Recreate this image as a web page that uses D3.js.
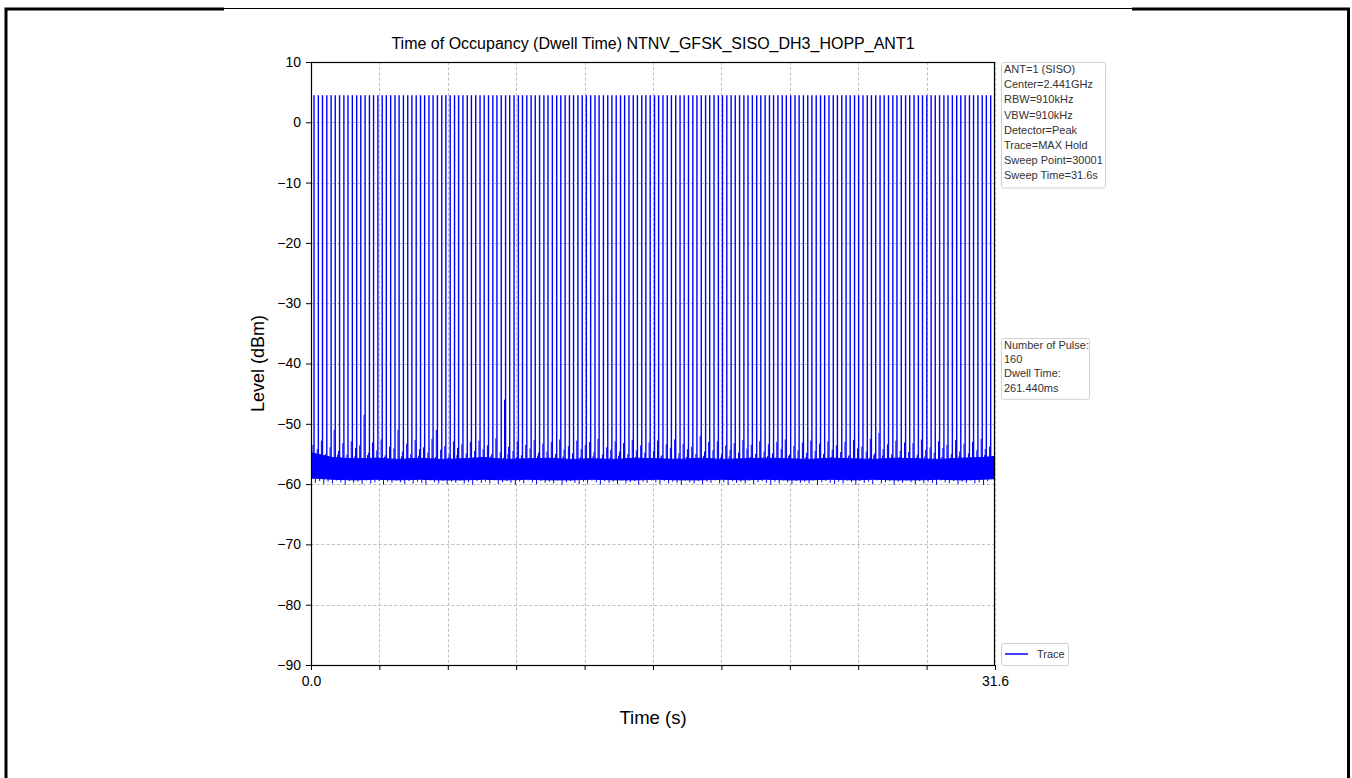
<!DOCTYPE html>
<html>
<head>
<meta charset="utf-8">
<script src="https://cdn.jsdelivr.net/npm/d3@7"></script>
<style>
  body { margin: 0; background: #fff; }
  svg { display: block; font-family: "Liberation Sans", Arial, sans-serif; }
</style>
</head>
<body>
<svg id="chart" width="1352" height="778"></svg>
<script>
// ---------------- data ----------------
const titleText = "Time of Occupancy (Dwell Time) NTNV_GFSK_SISO_DH3_HOPP_ANT1";
const xDomain = [0, 31.6];
const yDomain = [-90, 10];
const xTickValues = [0, 3.16, 6.32, 9.48, 12.64, 15.8, 18.96, 22.12, 25.28, 28.44, 31.6];
const xTickLabels = ["0.0", "", "", "", "", "", "", "", "", "", "31.6"];
const yTickValues = [10, 0, -10, -20, -30, -40, -50, -60, -70, -80, -90];

const infoLines = ["ANT=1 (SISO)", "Center=2.441GHz", "RBW=910kHz", "VBW=910kHz",
  "Detector=Peak", "Trace=MAX Hold", "Sweep Point=30001", "Sweep Time=31.6s"];
const resultLines = ["Number of Pulse:", "160", "Dwell Time:", "261.440ms"];
const seriesName = "Trace";

// pulse start times (s), 160 pulses
const pulseTimes = [
  0.14, 0.34, 0.53, 0.73, 0.93, 1.12, 1.32, 1.52, 1.71, 1.91,
  2.11, 2.30, 2.50, 2.70, 2.89, 3.09, 3.29, 3.48, 3.68, 3.88,
  4.07, 4.27, 4.47, 4.66, 4.86, 5.06, 5.25, 5.45, 5.64, 5.84,
  6.04, 6.23, 6.43, 6.63, 6.82, 7.02, 7.22, 7.41, 7.61, 7.81,
  8.00, 8.20, 8.40, 8.59, 8.79, 8.99, 9.18, 9.38, 9.58, 9.77,
  9.97, 10.17, 10.36, 10.56, 10.76, 10.95, 11.15, 11.35, 11.54, 11.74,
  11.94, 12.13, 12.33, 12.53, 12.72, 12.92, 13.12, 13.31, 13.51, 13.71,
  13.90, 14.10, 14.30, 14.49, 14.69, 14.89, 15.08, 15.28, 15.47, 15.67,
  15.87, 16.06, 16.26, 16.46, 16.65, 16.85, 17.05, 17.24, 17.44, 17.64,
  17.83, 18.03, 18.23, 18.42, 18.62, 18.82, 19.01, 19.21, 19.41, 19.60,
  19.80, 20.00, 20.19, 20.39, 20.59, 20.78, 20.98, 21.18, 21.37, 21.57,
  21.77, 21.96, 22.16, 22.36, 22.55, 22.75, 22.95, 23.14, 23.34, 23.54,
  23.73, 23.93, 24.13, 24.32, 24.52, 24.72, 24.91, 25.11, 25.30, 25.50,
  25.70, 25.89, 26.09, 26.29, 26.48, 26.68, 26.88, 27.07, 27.27, 27.47,
  27.66, 27.86, 28.06, 28.25, 28.45, 28.65, 28.84, 29.04, 29.24, 29.43,
  29.63, 29.83, 30.02, 30.22, 30.42, 30.61, 30.81, 31.01, 31.20, 31.40
];
const pulsePeak = 4.5;      // dBm, level of each pulse
const pulseBase = -59.0;    // dBm, level the pulses rise from

// spike level next to each pulse (dBm)
const shoulderLevels = [
  -53.5, -54.2, -52.8, -55.0, -53.9, -51.0, -54.5, -53.2, -55.1, -52.9, -54.0, -53.6, -48.5, -54.8, -53.1, -54.4, -52.6, -55.2, -53.8, -54.1,
  -51.0, -54.6, -53.3, -55.0, -52.7, -54.2, -53.9, -54.8, -52.5, -51.0, -54.3, -53.7, -55.1, -52.9, -54.0, -53.4, -54.9, -53.0, -54.5, -52.8,
  -54.2, -53.6, -55.0, -52.4, -54.7, -46.0, -53.8, -54.5, -52.9, -55.2, -53.5, -54.1, -52.7, -54.8, -53.3, -54.6, -53.0, -55.0, -52.6, -54.3,
  -53.7, -54.9, -52.8, -54.2, -53.5, -53.0, -54.7, -52.5, -55.1, -53.9, -54.3, -52.9, -54.6, -53.2, -55.0, -52.7, -54.4, -53.6, -54.8, -53.1,
  -54.5, -52.8, -55.2, -53.4, -54.0, -52.6, -54.9, -53.3, -54.2, -53.8, -55.0, -52.0, -54.6, -53.0, -54.4, -52.9, -55.1, -53.6, -54.3, -53.2,
  -54.8, -52.7, -54.1, -53.5, -55.0, -52.9, -54.6, -53.4, -54.9, -53.0, -54.2, -52.6, -55.1, -53.7, -54.4, -53.1, -54.8, -52.8, -54.5, -53.3,
  -55.0, -52.9, -54.3, -53.6, -54.7, -53.0, -55.2, -52.7, -54.1, -53.8, -54.6, -52.5, -54.9, -51.5, -54.2, -53.4, -55.0, -52.8, -54.5, -53.1,
  -54.7, -53.2, -55.1, -52.6, -54.3, -53.9, -54.8, -52.9, -54.0, -53.5, -55.0, -52.7, -54.6, -53.3, -54.9, -53.0, -54.4, -52.5, -54.2, -53.8
];
// noise spike level midway between pulses (dBm)
const midLevels = [
  -55.6, -56.2, -55.3, -56.5, -55.9, -55.1, -56.4, -55.7, -56.0, -55.4, -56.3, -55.8, -55.2, -56.1, -55.6, -56.4, -55.5, -56.0, -55.9, -56.2,
  -55.4, -56.1, -55.8, -56.5, -55.3, -56.0, -55.7, -56.3, -55.5, -55.9, -56.2, -55.6, -56.4, -55.2, -56.0, -55.8, -56.3, -55.5, -56.1, -55.7,
  -56.0, -55.4, -56.3, -55.8, -55.6, -55.0, -56.2, -55.5, -56.4, -55.9, -55.7, -56.1, -55.3, -56.0, -55.8, -56.4, -55.6, -56.2, -55.4, -56.0,
  -55.9, -56.3, -55.5, -56.1, -55.7, -55.4, -56.2, -55.8, -56.5, -55.6, -56.0, -55.3, -56.3, -55.9, -56.1, -55.5, -56.4, -55.7, -56.0, -55.8,
  -56.2, -55.4, -56.1, -55.9, -56.3, -55.6, -56.0, -55.5, -56.4, -55.7, -56.1, -55.3, -56.2, -55.8, -56.0, -55.6, -56.5, -55.4, -56.1, -55.9,
  -55.7, -56.3, -55.5, -56.0, -55.8, -56.2, -55.4, -56.4, -55.6, -56.1, -55.9, -55.3, -56.2, -55.7, -56.0, -55.5, -56.3, -55.8, -56.1, -55.6,
  -56.4, -55.5, -56.0, -55.8, -56.2, -55.4, -56.3, -55.7, -56.1, -55.9, -55.6, -55.2, -56.0, -55.3, -56.4, -55.7, -56.2, -55.5, -56.0, -55.8,
  -56.1, -55.6, -56.3, -55.4, -56.0, -55.9, -56.2, -55.5, -56.4, -55.7, -56.0, -55.3, -56.1, -55.8, -56.3, -55.6, -55.9, -55.2, -55.8, -55.5
];
// lowest noise dip level between pulses (dBm)
const dipLevels = [
  -59.8, -59.5, -60.0, -59.6, -59.9, -59.4, -59.7, -60.1, -59.5, -59.8, -59.6, -60.0, -59.4, -59.9, -59.7, -59.5, -60.1, -59.6, -59.8, -59.4,
  -59.7, -60.0, -59.5, -59.9, -59.6, -59.8, -60.1, -59.4, -59.7, -59.9, -59.5, -60.0, -59.6, -59.8, -59.4, -59.9, -59.7, -60.1, -59.5, -59.8,
  -59.6, -59.9, -59.4, -60.0, -59.7, -59.5, -59.8, -60.1, -59.6, -59.9, -59.4, -59.7, -60.0, -59.5, -59.8, -59.6, -59.9, -59.4, -60.1, -59.7,
  -59.5, -59.8, -60.0, -59.6, -59.9, -59.4, -59.7, -60.1, -59.5, -59.8, -59.6, -60.0, -59.4, -59.9, -59.7, -59.5, -60.1, -59.6, -59.8, -59.4,
  -59.7, -60.0, -59.5, -59.9, -59.6, -59.8, -60.1, -59.4, -59.7, -59.9, -59.5, -60.0, -59.6, -59.8, -59.4, -59.9, -59.7, -60.1, -59.5, -59.8,
  -59.6, -59.9, -59.4, -60.0, -59.7, -59.5, -59.8, -60.1, -59.6, -59.9, -59.4, -59.7, -60.0, -59.5, -59.8, -59.6, -59.9, -59.4, -60.1, -59.7,
  -59.5, -59.8, -60.0, -59.6, -59.9, -59.4, -59.7, -60.1, -59.5, -59.8, -59.6, -60.0, -59.4, -59.9, -59.7, -59.5, -60.1, -59.6, -59.8, -59.4,
  -59.7, -60.0, -59.5, -59.9, -59.6, -59.8, -60.1, -59.4, -59.7, -59.9, -59.5, -60.0, -59.6, -59.8, -59.4, -59.9, -59.7, -60.1, -59.5, -59.2
];
// noise floor band envelope, sampled every ~1 s
const floorTimes = [0, 1, 2, 3, 4, 5, 6, 7, 8, 9, 10, 11, 12, 13, 14, 15, 16, 17, 18, 19, 20, 21, 22, 23, 24, 25, 26, 27, 28, 29, 30, 31, 31.6];
const floorTop = [-54.8, -55.6, -55.8, -55.7, -55.9, -55.7, -55.9, -55.8, -55.6, -55.9, -55.8, -55.7, -55.9, -55.8, -55.9, -55.7, -55.8,
  -55.9, -55.7, -55.9, -55.8, -55.7, -55.8, -55.9, -55.7, -55.8, -55.9, -55.7, -55.8, -55.9, -55.7, -55.6, -55.4];
const floorBottom = [-59.0, -59.2, -59.3, -59.2, -59.3, -59.2, -59.3, -59.3, -59.2, -59.3, -59.2, -59.3, -59.3, -59.2, -59.3, -59.3, -59.2,
  -59.3, -59.3, -59.2, -59.3, -59.2, -59.3, -59.3, -59.2, -59.3, -59.2, -59.3, -59.3, -59.2, -59.3, -59.2, -59.1];

// ---------------- layout ----------------
const svg = d3.select("#chart");
const plot = { left: 311, right: 995, top: 62, bottom: 665 };
const blue = "#0000ff";

const x = d3.scaleLinear().domain(xDomain).range([plot.left, plot.right]);
const y = d3.scaleLinear().domain(yDomain).range([plot.bottom, plot.top]);

// page frame
const frame = svg.append("g").attr("stroke", "#000").attr("fill", "none");
frame.append("line").attr("x1", 224).attr("x2", 1132).attr("y1", 8.5).attr("y2", 8.5).attr("stroke-width", 1);
frame.append("path").attr("d", "M6,778 L6,9 L224,9").attr("stroke-width", 3);
frame.append("path").attr("d", "M1132,9 L1348.5,9 L1348.5,778").attr("stroke-width", 3);

// clip
svg.append("defs").append("clipPath").attr("id", "clip")
  .append("rect").attr("x", plot.left).attr("y", plot.top)
  .attr("width", plot.right - plot.left).attr("height", plot.bottom - plot.top);

// grid
const grid = svg.append("g").attr("stroke", "#b0b0b0").attr("stroke-width", 0.8).attr("stroke-dasharray", "3,2.2");
grid.selectAll(".vg").data(xTickValues).join("line")
  .attr("x1", d => Math.round(x(d)) + 0.5).attr("x2", d => Math.round(x(d)) + 0.5)
  .attr("y1", plot.top).attr("y2", plot.bottom);
grid.selectAll(".hg").data(yTickValues).join("line")
  .attr("y1", d => Math.round(y(d)) + 0.5).attr("y2", d => Math.round(y(d)) + 0.5)
  .attr("x1", plot.left).attr("x2", plot.right);

// trace
const trace = svg.append("g").attr("clip-path", "url(#clip)");
const area = d3.area().x((d, i) => x(floorTimes[i])).y0((d, i) => y(floorBottom[i])).y1((d, i) => y(floorTop[i]));
trace.append("path").datum(floorTop).attr("d", area).attr("fill", blue).attr("stroke", blue).attr("stroke-width", 1);

trace.selectAll(".dip").data(pulseTimes).join("line")
  .attr("x1", d => x(d + 0.06)).attr("x2", d => x(d + 0.06))
  .attr("y1", (d, i) => y(dipLevels[i])).attr("y2", y(-57))
  .attr("stroke", blue).attr("stroke-width", 1);
trace.selectAll(".mid").data(pulseTimes).join("line")
  .attr("x1", d => x(d + 0.11)).attr("x2", d => x(d + 0.11))
  .attr("y1", y(pulseBase)).attr("y2", (d, i) => y(midLevels[i]))
  .attr("stroke", blue).attr("stroke-width", 1);
trace.selectAll(".sh").data(pulseTimes).join("line")
  .attr("x1", d => x(d - 0.05)).attr("x2", d => x(d - 0.05))
  .attr("y1", y(pulseBase)).attr("y2", (d, i) => y(shoulderLevels[i]))
  .attr("stroke", blue).attr("stroke-width", 1);
trace.selectAll(".pulse").data(pulseTimes).join("line")
  .attr("x1", d => x(d)).attr("x2", d => x(d))
  .attr("y1", y(pulseBase)).attr("y2", y(pulsePeak))
  .attr("stroke", blue).attr("stroke-width", 1.4);

// axes
const xAxis = d3.axisBottom(x).tickValues(xTickValues).tickSize(5).tickPadding(6)
  .tickFormat((d, i) => xTickLabels[i]);
const gx = svg.append("g").attr("transform", `translate(0,${plot.bottom})`).call(xAxis);
const yAxis = d3.axisLeft(y).tickValues(yTickValues).tickSize(5).tickPadding(5)
  .tickFormat(d => d < 0 ? "\u2212" + Math.abs(d) : String(d));
const gy = svg.append("g").attr("transform", `translate(${plot.left},0)`).call(yAxis);
[gx, gy].forEach(g => {
  g.select(".domain").remove();
  g.selectAll(".tick line").attr("stroke", "#000").attr("stroke-width", 1);
  g.selectAll(".tick text").attr("fill", "#000").style("font-size", "14px")
    .style("font-family", "'Liberation Sans', Arial, sans-serif");
});

// spines
svg.append("rect").attr("x", plot.left + 0.5).attr("y", plot.top + 0.5)
  .attr("width", plot.right - plot.left - 1).attr("height", plot.bottom - plot.top)
  .attr("fill", "none").attr("stroke", "#000").attr("stroke-width", 1.2);

// title and labels
svg.append("text").attr("x", (plot.left + plot.right) / 2).attr("y", 49)
  .attr("text-anchor", "middle").style("font-size", "16px").attr("fill", "#000").text(titleText);
svg.append("text").attr("x", (plot.left + plot.right) / 2).attr("y", 724)
  .attr("text-anchor", "middle").style("font-size", "18.5px").attr("fill", "#000").text("Time (s)");
svg.append("text").attr("transform", `translate(264,${(plot.top + plot.bottom) / 2}) rotate(-90)`)
  .attr("text-anchor", "middle").style("font-size", "18px").attr("fill", "#000").text("Level (dBm)");

// info boxes
function infoBox(lines, x0, top, w, lh) {
  const g = svg.append("g");
  const h = lines.length * lh + 4;
  g.append("rect").attr("x", x0 + 0.5).attr("y", top + 0.5).attr("width", w).attr("height", h)
    .attr("rx", 2).attr("fill", "#fff").attr("stroke", "#d0d0d0").attr("stroke-width", 1);
  g.selectAll("text").data(lines).join("text")
    .attr("x", x0 + 3).attr("y", (d, i) => top + 11 + i * lh)
    .style("font-size", "11px").attr("fill", "#333").text(d => d);
  return g;
}
infoBox(infoLines, 1001, 62, 104, 15.2);
infoBox(resultLines, 1001, 338, 88, 14.2);

// legend
const lg = svg.append("g");
lg.append("rect").attr("x", 1001.5).attr("y", 643.5).attr("width", 67).attr("height", 22)
  .attr("rx", 2).attr("fill", "#fff").attr("stroke", "#d0d0d0");
lg.append("line").attr("x1", 1005).attr("x2", 1028).attr("y1", 654).attr("y2", 654)
  .attr("stroke", blue).attr("stroke-width", 1.5);
lg.append("text").attr("x", 1037).attr("y", 658).style("font-size", "11px").attr("fill", "#333").text(seriesName);
</script>
</body>
</html>
